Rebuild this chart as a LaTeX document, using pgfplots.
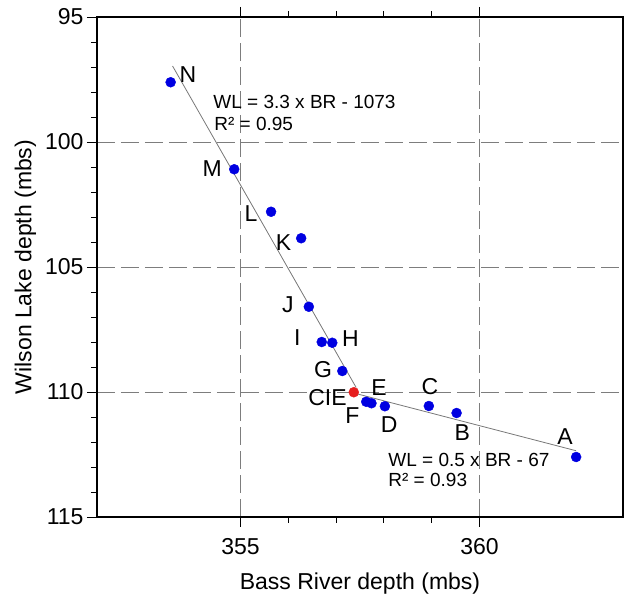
\documentclass[border=0pt]{standalone}
\usepackage{fontspec}
\setmainfont{Liberation Sans}
\usepackage{pgfplots}
\pgfplotsset{compat=1.18}
\definecolor{ptblue}{RGB}{0,0,225}
\definecolor{ptred}{RGB}{230,30,30}
\definecolor{gridgray}{RGB}{125,125,125}
\definecolor{fitgray}{RGB}{120,120,120}
\pgfplotsset{
 common/.style={
  scale only axis, width=526pt, height=500pt,
  xmin=352, xmax=363, ymin=95, ymax=115,
  tick align=outside, major tick length=10pt, minor tick length=6pt,
  major grid style={dash pattern=on 18pt off 6pt, color=gridgray, line width=0.8pt},
  axis line style={black, line width=1.1pt},
  major tick style={black, line width=0.9pt},
  minor tick style={black, line width=0.9pt},
  ticklabel style={font=\fontsize{23}{26}\selectfont},
  /pgf/number format/assume math mode=true,
  label style={font=\fontsize{23}{26}\selectfont},
 }
}
\begin{document}
\begin{tikzpicture}
% x axis: ticks, labels and vertical grid lines (normal y so that ticks point outward)
\begin{axis}[common,
 xtick={355,360}, minor x tick num=4, ytick=\empty,
 xtick pos=both, xticklabel pos=lower,
 xmajorgrids=true,
 xticklabel style={yshift=-8pt},
 xlabel={Bass River depth (mbs)},
 xlabel style={at={(axis description cs:0.5,-0.133)}, anchor=center},
]
\end{axis}
% data axis with reversed depth scale
\begin{axis}[common, y dir=reverse,
 xtick=\empty, ytick={95,100,105,110,115}, minor y tick num=4,
 ytick pos=left, ymajorgrids=true,
 ylabel={Wilson Lake depth (mbs)},
 ylabel style={at={(axis description cs:-0.136,0.5)}, anchor=center},
 clip=false,
]
\addplot[fitgray, line width=0.8pt] coordinates {(353.58,96.96) (357.42,109.82)};
\addplot[fitgray, line width=0.8pt] coordinates {(357.37,110.04) (362.02,112.35)};
\addplot[only marks, mark=*, mark size=5pt, mark options={draw=ptblue, fill=ptblue}] coordinates {
 (353.54,97.61) (354.87,101.09) (355.64,102.79) (356.27,103.85) (356.43,106.59)
 (356.70,108.00) (356.92,108.03) (357.13,109.16) (357.63,110.39) (357.74,110.45)
 (358.02,110.57) (358.94,110.56) (359.52,110.84) (362.02,112.60)};
\addplot[only marks, mark=*, mark size=5pt, mark options={draw=ptred, fill=ptred}] coordinates {(357.37,110.01)};
\begin{scope}[every node/.style={font=\fontsize{23}{26}\selectfont, inner sep=0pt}]
\node at (axis cs:353.90,97.32) {N};
\node at (axis cs:354.41,101.05) {M};
\node at (axis cs:355.22,102.85) {L};
\node at (axis cs:355.90,104.03) {K};
\node at (axis cs:355.99,106.52) {J};
\node at (axis cs:356.19,107.83) {I};
\node at (axis cs:357.30,107.88) {H};
\node at (axis cs:356.73,109.12) {G};
\node at (axis cs:356.82,110.24) {CIE};
\node at (axis cs:357.90,109.84) {E};
\node at (axis cs:357.34,110.94) {F};
\node at (axis cs:358.11,111.31) {D};
\node at (axis cs:358.96,109.80) {C};
\node at (axis cs:359.64,111.62) {B};
\node at (axis cs:361.79,111.78) {A};
\end{scope}
\begin{scope}[every node/.style={font=\fontsize{19}{21}\selectfont, inner sep=0pt, anchor=west}]
\node at (axis cs:354.43,98.40) {WL = 3.3 x BR - 1073};
\node at (axis cs:354.45,99.26) {R² = 0.95};
\node at (axis cs:358.09,112.72) {WL = 0.5 x BR - 67};
\node at (axis cs:358.09,113.52) {R² = 0.93};
\end{scope}
\end{axis}
\pgfresetboundingbox
\path[use as bounding box] (-97pt,-77pt) rectangle (530pt,517pt);
\end{tikzpicture}
\end{document}
